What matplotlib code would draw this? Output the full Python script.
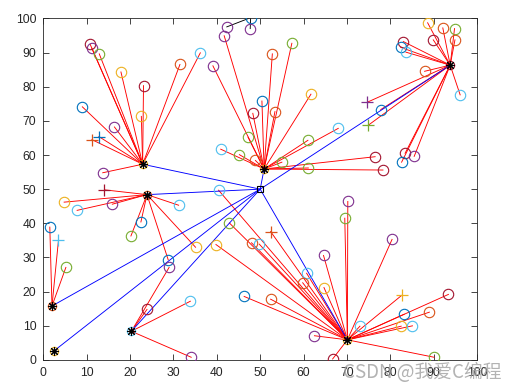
import matplotlib
matplotlib.use("Agg")
import matplotlib.pyplot as plt

# MATLAB default colour order
COLORS = {
    "B": "#0072BD",
    "O": "#D95319",
    "Y": "#EDB120",
    "P": "#7E2F8E",
    "G": "#77AC30",
    "L": "#4DBEEE",
    "R": "#A2142F",
}

hub_x, hub_y = 50.0, 50.0

center_x = [22.9, 23.9, 2.0, 20.3, 2.5, 50.9, 70.1, 93.8]
center_y = [57.3, 48.4, 15.8, 8.4, 2.7, 55.9, 5.9, 86.3]
center_c = ["Y", "O", "O", "L", "Y", "Y", "Y", "R"]

# circles: x, y, colour, cluster index
pt_x = [10.8, 11.2, 12.9, 17.9, 23.1, 22.6, 9.0, 16.4, 13.7, 31.5, 36.2,
        4.8, 7.8, 15.9, 31.2, 22.5, 20.2, 35.1, 28.8,
        1.5, 5.2,
        23.9, 33.9, 34.1, 29.0,
        41.7, 39.1, 57.3, 52.8, 61.7, 50.4, 48.3, 53.4, 68.0, 61.0, 76.5, 78.3,
        61.1, 55.0, 48.9, 47.2, 40.9, 45.2,
        70.2, 69.5, 80.4, 64.6, 60.7, 59.8, 64.7, 52.4, 62.5, 66.7, 73.0, 83.2,
        89.0, 93.4, 82.5, 85.1, 90.1, 48.0, 49.8, 40.4, 42.9, 39.8, 46.3,
        88.6, 92.1, 94.8, 89.9, 94.9, 83.0, 82.4, 83.6, 87.9, 96.1, 77.8, 83.4,
        82.6, 85.5]
pt_y = [92.4, 91.2, 89.6, 84.3, 80.3, 71.3, 74.1, 68.2, 54.8, 86.5, 89.9,
        46.2, 43.8, 45.6, 45.3, 40.4, 36.3, 33.0, 29.3,
        38.9, 27.1,
        14.8, 17.2, 0.8, 27.1,
        94.9, 86.1, 92.7, 89.6, 77.8, 75.8, 72.2, 72.7, 67.8, 64.3, 59.5, 55.6,
        56.2, 57.9, 58.4, 65.2, 61.7, 60.1,
        46.4, 41.5, 35.3, 30.6, 25.4, 22.6, 21.2, 17.8, 7.1, 0.3, 9.9, 13.4,
        14.0, 19.2, 9.9, 10.0, 0.8, 34.3, 33.9, 49.7, 40.1, 33.8, 18.6,
        98.7, 97.2, 97.0, 93.7, 93.7, 93.2, 91.5, 90.1, 84.5, 77.6, 73.3, 60.5,
        57.9, 59.6]
pt_c = ["R", "P", "G", "Y", "R", "Y", "B", "P", "P", "O", "L",
        "Y", "L", "P", "L", "B", "G", "Y", "B",
        "B", "G",
        "R", "L", "P", "P",
        "P", "P", "G", "O", "Y", "B", "R", "O", "L", "G", "R", "R",
        "G", "G", "O", "G", "L", "G",
        "P", "G", "P", "P", "L", "O", "Y", "O", "P", "R", "L", "B",
        "O", "R", "Y", "L", "G", "O", "L", "L", "G", "Y", "B",
        "Y", "O", "G", "R", "O", "R", "B", "L", "O", "L", "B", "R",
        "B", "P"]
pt_k = [0] * 11 + [1] * 8 + [2] * 2 + [3] * 4 + [5] * 18 + [6] * 23 + [7] * 14

# plus markers
plus_x = [11.2, 12.8, 14.1, 3.5, 52.4, 82.6, 74.6, 74.9]
plus_y = [64.5, 65.4, 49.8, 35.1, 37.6, 18.9, 75.4, 68.7]
plus_c = ["O", "B", "R", "L", "O", "Y", "P", "G"]
plus_k = [0, 0, 1, 2, 6, 6, 7, 7]

# small group at the top joined with black lines
top_x = [47.8, 42.3, 47.7]
top_y = [100.2, 97.5, 97.0]
top_c = ["B", "P", "P"]

plt.rcParams["font.family"] = ["Liberation Sans", "DejaVu Sans"]

fig = plt.figure(figsize=(5.18, 3.91), dpi=100)
ax = fig.add_axes([0.0836, 0.0793, 0.8374, 0.8738])

lw = 0.65
for x, y, k in zip(pt_x + plus_x, pt_y + plus_y, pt_k + plus_k):
    ax.plot([x, center_x[k]], [y, center_y[k]], color="red", lw=lw, zorder=2)

for i in (1, 2):
    ax.plot([top_x[0], top_x[i]], [top_y[0], top_y[i]], color="black", lw=lw, zorder=2)

for cx, cy in zip(center_x, center_y):
    ax.plot([hub_x, cx], [hub_y, cy], color="blue", lw=lw, zorder=3)

for x, y, c in zip(pt_x + top_x, pt_y + top_y, pt_c + top_c):
    ax.plot(x, y, "o", mfc="none", mec=COLORS[c], ms=7.5, mew=0.8, zorder=4)

for x, y, c in zip(plus_x, plus_y, plus_c):
    ax.plot(x, y, "+", color=COLORS[c], ms=8, mew=0.9, zorder=4)

for x, y, c in zip(center_x, center_y, center_c):
    ax.plot(x, y, "o", mfc="none", mec=COLORS[c], ms=6, mew=0.8, zorder=4)
    ax.plot(x, y, marker=(8, 2, 0), color="black", ms=6.5, mew=0.8, zorder=5)

ax.plot(hub_x, hub_y, "s", mfc="none", mec="black", ms=5, mew=0.8, zorder=5)

ax.set_xlim(0, 100)
ax.set_ylim(0, 100)
ax.set_xticks(range(0, 101, 10))
ax.set_yticks(range(0, 101, 10))
ax.tick_params(direction="in", length=4, width=0.6, top=True, right=True,
               labelsize=8.7, colors="#262626", pad=5)
for s in ax.spines.values():
    s.set_linewidth(0.6)
    s.set_color("#262626")

fig.text(0.968, 0.048, "CSDN @我爱C编程", ha="right", va="center", fontsize=13.5,
         color="#a0a0a0", alpha=0.8,
         family=["Noto Sans CJK SC", "DejaVu Sans"])

fig.savefig("out.png", dpi=100)
